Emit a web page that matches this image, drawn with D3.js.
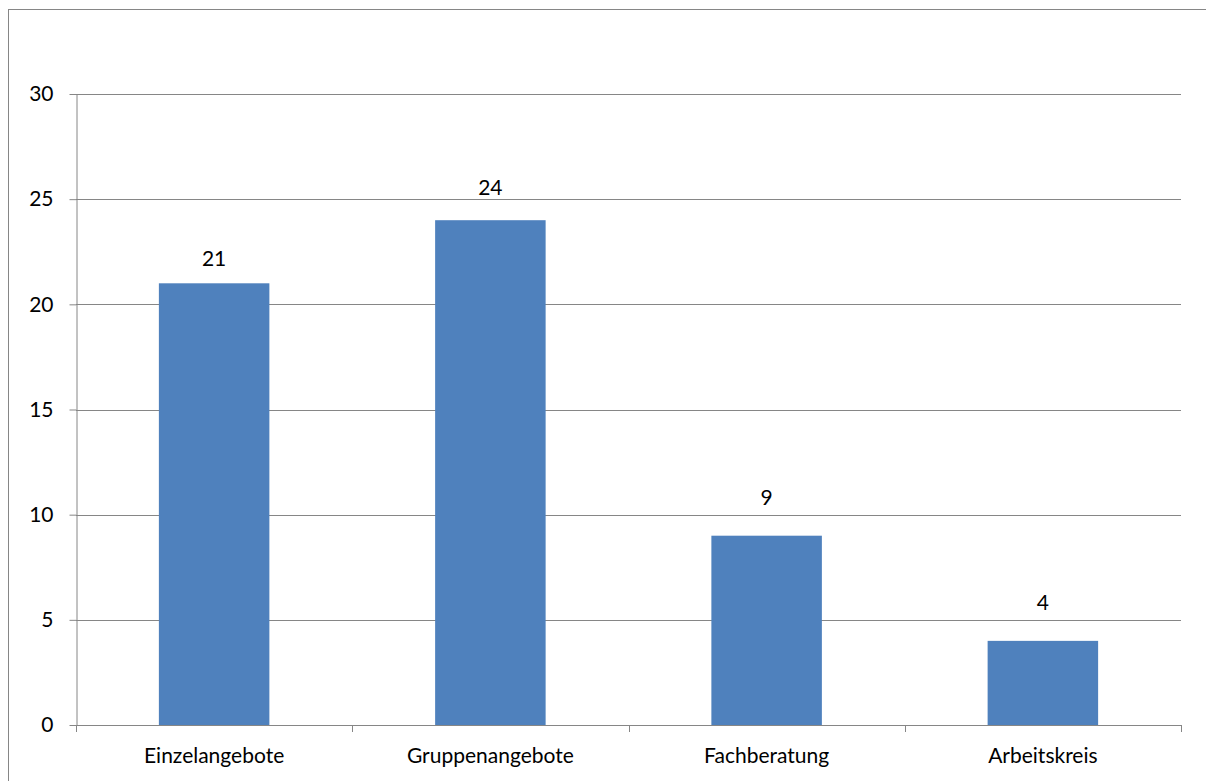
<!DOCTYPE html>
<html>
<head>
<meta charset="utf-8">
<script src="https://cdn.jsdelivr.net/npm/d3@7"></script>
<style>
  html, body { margin: 0; padding: 0; background: #fff; }
  svg { display: block; font-family: Lato, "Open Sans", sans-serif; }
</style>
</head>
<body>
<svg id="chart" width="1206" height="781"></svg>
<script>
// Angebotsarten und Anzahl
const categories = ["Einzelangebote", "Gruppenangebote", "Fachberatung", "Arbeitskreis"];
const values = [21, 24, 9, 4];
const yTicks = [0, 5, 10, 15, 20, 25, 30];

// distance of each value label's baseline above its bar (px)
const labelGap = [17, 25, 31, 31];

const svg = d3.select("#chart");
const W = 1206, H = 781;
const margin = { left: 76, right: 1181, top: 94, bottom: 725 };
const gridColor = "#868686";
const fontSize = 21;

// chart frame
svg.append("rect")
  .attr("x", 8.5).attr("y", 9.5)
  .attr("width", W + 10).attr("height", H + 10)
  .attr("fill", "none").attr("stroke", gridColor).attr("stroke-width", 1);

const x = d3.scaleBand()
  .domain(categories)
  .range([margin.left, margin.right])
  .paddingInner(0.6).paddingOuter(0.3);

const xOuter = d3.scaleBand()
  .domain(categories)
  .range([margin.left, margin.right]);

const y = d3.scaleLinear()
  .domain([0, 30])
  .range([margin.bottom, margin.top]);

// horizontal gridlines
svg.append("g")
  .selectAll("line")
  .data(yTicks.filter(d => d > 0))
  .join("line")
  .attr("x1", margin.left).attr("x2", margin.right)
  .attr("y1", d => Math.round(y(d)) + 0.5).attr("y2", d => Math.round(y(d)) + 0.5)
  .attr("stroke", gridColor).attr("stroke-width", 1);

// y axis
const yAxis = svg.append("g")
  .attr("transform", `translate(${margin.left + 0.5},0)`)
  .call(d3.axisLeft(y).tickValues(yTicks).tickSize(7).tickPadding(16).tickSizeOuter(0));
yAxis.select(".domain").attr("stroke", gridColor);
yAxis.selectAll(".tick line").attr("stroke", gridColor);
yAxis.selectAll(".tick text")
  .attr("fill", "#000").attr("font-size", fontSize).attr("font-family", "Lato, sans-serif");

// bars
svg.append("g")
  .selectAll("rect")
  .data(values)
  .join("rect")
  .attr("x", (d, i) => x(categories[i]))
  .attr("width", x.bandwidth())
  .attr("y", d => y(d))
  .attr("height", d => y(0) - y(d))
  .attr("fill", "#4F81BD");

// value labels
svg.append("g")
  .selectAll("text")
  .data(values)
  .join("text")
  .attr("x", (d, i) => x(categories[i]) + x.bandwidth() / 2)
  .attr("y", (d, i) => y(d) - labelGap[i])
  .attr("text-anchor", "middle")
  .attr("font-size", fontSize)
  .attr("fill", "#000")
  .text(d => d);

// x axis baseline and category separators
const xb = svg.append("g");
xb.append("line")
  .attr("x1", margin.left).attr("x2", margin.right + 0.5)
  .attr("y1", margin.bottom + 0.5).attr("y2", margin.bottom + 0.5)
  .attr("stroke", gridColor);
const bounds = categories.map(c => xOuter(c)).concat([margin.right]);
xb.selectAll("line.sep")
  .data(bounds)
  .join("line")
  .attr("class", "sep")
  .attr("x1", d => Math.round(d) + 0.5).attr("x2", d => Math.round(d) + 0.5)
  .attr("y1", margin.bottom).attr("y2", margin.bottom + 7)
  .attr("stroke", gridColor);

// category labels
xb.selectAll("text")
  .data(categories)
  .join("text")
  .attr("x", d => xOuter(d) + xOuter.bandwidth() / 2)
  .attr("y", margin.bottom + 38)
  .attr("text-anchor", "middle")
  .attr("font-size", fontSize)
  .attr("fill", "#000")
  .text(d => d);
</script>
</body>
</html>
